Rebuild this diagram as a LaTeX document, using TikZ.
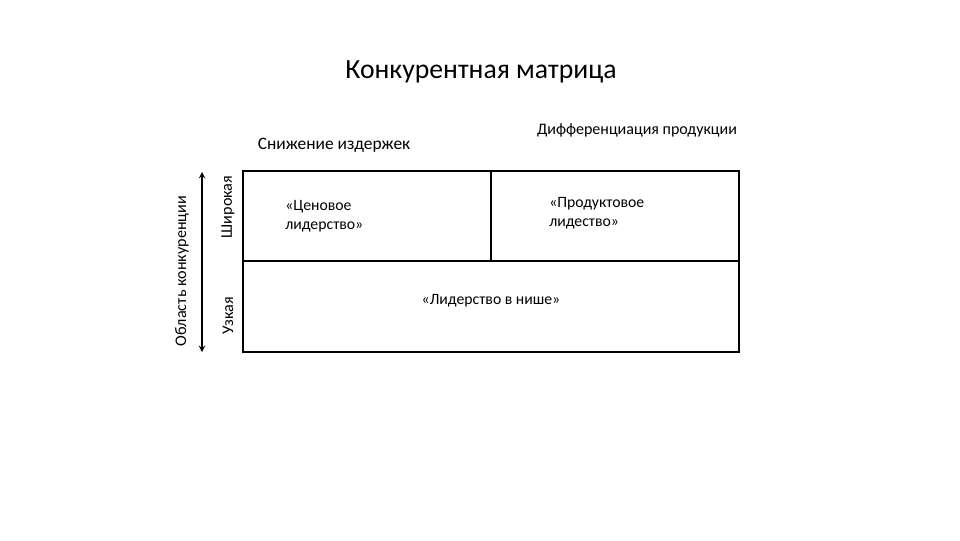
\documentclass[tikz,border=0pt]{standalone}
\usepackage{fontspec}
\setmainfont{Carlito}
\usetikzlibrary{positioning, arrows}
\tikzset{
    frame/.style={ % Sets the properties for the matrix lines
        draw,
        line width=1.3pt
    },
    heading/.style={ % Column headings above the matrix
        font=\fontsize{12.4}{14}\selectfont,
        inner sep=0pt
    },
    field/.style={ % Texts inside the fields
        font=\fontsize{11.2}{13.5}\selectfont,
        align=left,
        inner sep=0pt
    },
    side/.style={ % Rotated labels on the left
        font=\fontsize{11.5}{13}\selectfont,
        rotate=90,
        inner sep=0pt
    }
}

\begin{document}
\begin{tikzpicture}[x=0.025cm, y=-0.025cm]
        \useasboundingbox (0,0) rectangle (960,540);
        % titel
        \node[font=\fontsize{19.7}{24}\selectfont] (title) at (481,72) {Конкурентная матрица};
        % ueberschriften
        \node[heading]              (cost)      at (334,145) {Снижение издержек};
        \node[heading, font=\fontsize{11.4}{14}\selectfont]
                                    (diff)      at (637,130) {Дифференциация продукции};
        % eckpunkte der matrix
        \coordinate (nw)   at (243,171);
        \coordinate (se)   at (739,352);
        \coordinate (wm)   at (243,261);
        \coordinate (em)   at (739,261);
        \coordinate (top)  at (491,171);
        \coordinate (mid)  at (491,261);
        \draw[frame] (nw) rectangle (se);
        \draw[frame] (wm) -- (em);
        \draw[frame] (top) -- (mid);
        % felder
        \node[field, anchor=west]   (price)     at (285,216) {«Ценовое\\лидерство»};
        \node[field, anchor=west]   (product)   at (549,213) {«Продуктовое\\лидество»};
        \node[field]                (niche)     at (491,301) {«Лидерство в нише»};
        % linke seite
        \coordinate (atop) at (202,172);
        \coordinate (abot) at (202,352);
        \draw[<->, >=stealth, line width=1pt] (atop) -- (abot);
        \node[side]                 (area)      at (182,271) {Область конкуренции};
        \node[side]                 (wide)      at (228,207) {Широкая};
        \node[side]                 (narrow)    at (228,316) {Узкая};
\end{tikzpicture}
\end{document}
